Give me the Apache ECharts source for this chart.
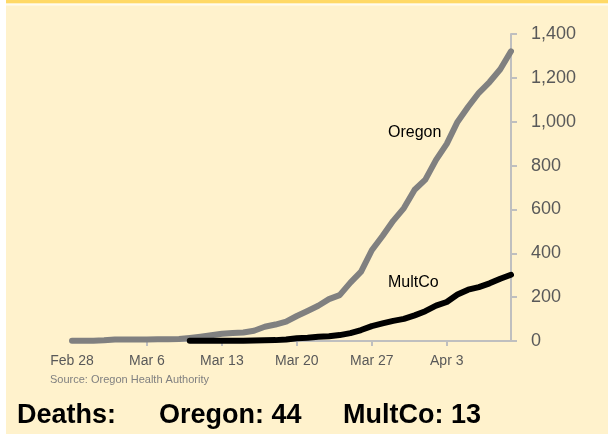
<!DOCTYPE html>
<html>
<head>
<meta charset="utf-8">
<script src="https://cdn.jsdelivr.net/npm/echarts@6/dist/echarts.min.js"></script>
<style>
  html, body { margin: 0; padding: 0; background: #fff; }
  #chart { width: 608px; height: 434px; }
</style>
</head>
<body>
<div id="chart"></div>
<script>
// dates Feb 28 – Apr 9 (2020)
const dates = [
  "Feb 28", "Feb 29", "Mar 1", "Mar 2", "Mar 3", "Mar 4", "Mar 5", "Mar 6",
  "Mar 7", "Mar 8", "Mar 9", "Mar 10", "Mar 11", "Mar 12", "Mar 13", "Mar 14",
  "Mar 15", "Mar 16", "Mar 17", "Mar 18", "Mar 19", "Mar 20", "Mar 21", "Mar 22",
  "Mar 23", "Mar 24", "Mar 25", "Mar 26", "Mar 27", "Mar 28", "Mar 29", "Mar 30",
  "Mar 31", "Apr 1", "Apr 2", "Apr 3", "Apr 4", "Apr 5", "Apr 6", "Apr 7",
  "Apr 8", "Apr 9"
]

// cumulative cases
const oregon = [
  1, 1, 1, 3, 7, 7, 7, 7,
  8, 8, 9, 14, 20, 26, 33, 36,
  39, 47, 65, 75, 88, 114, 137, 161,
  191, 209, 266, 316, 414, 479, 548, 606,
  690, 736, 826, 899, 999, 1068, 1132, 1181,
  1239, 1321
]

const multco = [
  null, null, null, null, null, null, null, null,
  null, null, null, 1, 1, 1, 1, 1,
  1, 2, 3, 4, 7, 13, 15, 19,
  22, 27, 36, 50, 68, 80, 92, 101,
  117, 136, 161, 178, 212, 234, 246, 263,
  284, 302
]

const yTicks = { min: 0, max: 1400, step: 200 }

const chart = echarts.init(document.getElementById("chart"))

const axisGrey = "#BFBFBF"
const labelGrey = "#595959"
const font = "Liberation Sans"

const weekly = (i) => i % 7 === 0

chart.setOption({
  animation: false,
  backgroundColor: "#FFF2CC",
  textStyle: { fontFamily: font },
  grid: { left: 72, right: 97, top: 34, bottom: 93 },
  xAxis: {
    type: "category",
    data: dates,
    boundaryGap: false,
    axisLine: { lineStyle: { color: axisGrey, width: 2 } },
    axisTick: {
      interval: (i) => i > 0 && weekly(i),
      length: 5,
      lineStyle: { color: axisGrey, width: 2 },
    },
    axisLabel: {
      interval: weekly,
      color: labelGrey,
      fontSize: 14,
      fontFamily: font,
      margin: 13,
    },
    splitLine: { show: false },
  },
  yAxis: {
    type: "value",
    position: "right",
    min: yTicks.min,
    max: yTicks.max,
    interval: yTicks.step,
    axisLine: { show: true, lineStyle: { color: axisGrey, width: 2 } },
    axisTick: { show: true, length: 6, lineStyle: { color: axisGrey, width: 2 } },
    axisLabel: {
      color: labelGrey,
      fontSize: 18,
      fontFamily: font,
      margin: 20,
      formatter: (v) => v.toLocaleString("en-US"),
    },
    splitLine: { show: false },
  },
  series: [
    {
      name: "Oregon",
      type: "line",
      data: oregon,
      symbol: "none",
      lineStyle: { color: "#808080", width: 6, cap: "round", join: "round" },
    },
    {
      name: "MultCo",
      type: "line",
      data: multco,
      symbol: "none",
      lineStyle: { color: "#000000", width: 6, cap: "round", join: "round" },
    },
  ],
  graphic: [
    // page edge and header strip
    { type: "rect", shape: { x: 0, y: 0, width: 6, height: 434 }, style: { fill: "#ffffff" }, silent: true },
    { type: "rect", shape: { x: 6, y: 0, width: 602, height: 3.5 }, style: { fill: "#FFD966" }, silent: true },
    { type: "rect", shape: { x: 6, y: 3.5, width: 602, height: 2 }, style: { fill: "#FFFBEF" }, silent: true },
    // series labels
    {
      type: "text", x: 388, y: 133,
      style: { text: "Oregon", font: "16px " + font, fill: "#000", align: "left", verticalAlign: "middle", textAlign: "left", textVerticalAlign: "middle" },
    },
    {
      type: "text", x: 388, y: 283,
      style: { text: "MultCo", font: "16px " + font, fill: "#000", align: "left", verticalAlign: "middle", textAlign: "left", textVerticalAlign: "middle" },
    },
    {
      type: "text", x: 50, y: 380,
      style: { text: "Source: Oregon Health Authority", font: "11px " + font, fill: "#808080", align: "left", verticalAlign: "middle", textAlign: "left", textVerticalAlign: "middle" },
    },
    {
      type: "text", x: 17, y: 416,
      style: { text: "Deaths:", font: "bold 27px " + font, fill: "#000", align: "left", verticalAlign: "middle", textAlign: "left", textVerticalAlign: "middle" },
    },
    {
      type: "text", x: 159, y: 416,
      style: { text: "Oregon: 44", font: "bold 27px " + font, fill: "#000", align: "left", verticalAlign: "middle", textAlign: "left", textVerticalAlign: "middle" },
    },
    {
      type: "text", x: 343, y: 416,
      style: { text: "MultCo: 13", font: "bold 27px " + font, fill: "#000", align: "left", verticalAlign: "middle", textAlign: "left", textVerticalAlign: "middle" },
    },
  ],
})
</script>
</body>
</html>
